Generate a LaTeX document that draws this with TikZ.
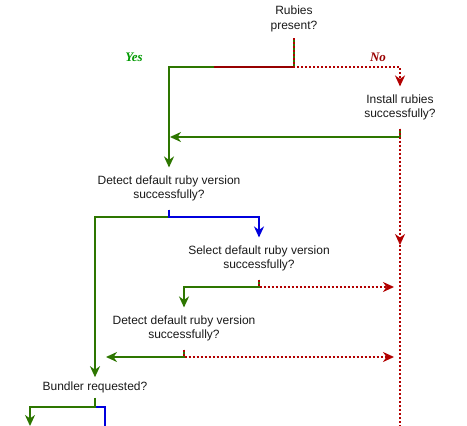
\documentclass[tikz,border=0pt]{standalone}
\usepackage{fontspec}
\setmainfont{Liberation Sans}
\newfontfamily\labelfont{Liberation Serif}
\usetikzlibrary{arrows.meta}
\definecolor{yesgreen}{HTML}{2D7600}
\definecolor{nored}{HTML}{B20000}
\definecolor{selblue}{HTML}{0000DD}
\definecolor{yestext}{HTML}{009900}
\definecolor{notext}{HTML}{990000}
\begin{document}
\begin{tikzpicture}[x=1pt, y=-1pt,
  ask/.style={align=center, inner xsep=1pt, inner ysep=8pt, font=\fontsize{12}{14.5}\selectfont, text=black!90},
  yesline/.style={yesgreen, line width=2pt},
  noline/.style={nored, line width=2pt, dash pattern=on 2pt off 2pt},
  noflat/.style={nored!85!black, line width=2pt},
  selline/.style={selblue, line width=2pt},
  tip/.style={-{Stealth[length=11pt, width=10pt, inset=3.5pt]}},
  answer/.style={font=\labelfont\bfseries\itshape\fontsize{13}{15}\selectfont}]
\useasboundingbox (0,0) rectangle (467,426);
\node[ask, inner ysep=6pt] (q0) at (294,19){Rubies\\present?};
\node[ask] (q1) at (400,107.5){Install rubies\\successfully?};
\node[ask] (q2) at (169,188.5){Detect default ruby version\\successfully?};
\node[ask] (q3) at (259,258.5){Select default ruby version\\successfully?};
\node[ask] (q4) at (184,328.5){Detect default ruby version\\successfully?};
\node[ask, inner ysep=4.5pt] (q5) at (95,387.5){Bundler requested?};
\node[answer, yestext] (yes) at (134,57){Yes};
\node[answer, notext] (no) at (378,57){No};
\coordinate (j0) at (294,67);
\coordinate (r0) at (214,67);
\coordinate (j1) at (400,137);
\coordinate (m1) at (170,137);
\coordinate (r1) at (400,245);
\coordinate (b1) at (400,426);
\coordinate (j2) at (169,217);
\coordinate (j3) at (259,287);
\coordinate (r3) at (394,287);
\coordinate (j4) at (184,357);
\coordinate (m4) at (106,357);
\coordinate (r4) at (394,357);
\coordinate (j5) at (95,407);
\coordinate (b5) at (30,426);
\coordinate (b6) at (105,426);
\draw[yesline, tip](q0.south) -- (j0) -| (q2.north);
\draw[noflat](r0) -- (j0);
\draw[noline, tip](q0.south) -- (j0) -| (q1.north);
\draw[yesline, tip](q1.south) -- (j1) -- (m1);
\draw[noline, tip](q1.south) -- (r1);
\draw[noline](r1) -- (b1);
\draw[yesline, tip](q2.south) -- (j2) -| (q5.north);
\draw[selline, tip](q2.south) -- (j2) -| (q3.north);
\draw[yesline, tip](q3.south) -- (j3) -| (q4.north);
\draw[noline, tip](q3.south) -- (j3) -- (r3);
\draw[yesline, tip](q4.south) -- (j4) -- (m4);
\draw[noline, tip](q4.south) -- (j4) -- (r4);
\draw[selline](q5.south) -- (j5) -| (b6);
\draw[yesline, tip](q5.south) -- (j5) -| (b5);

\end{tikzpicture}
\end{document}
